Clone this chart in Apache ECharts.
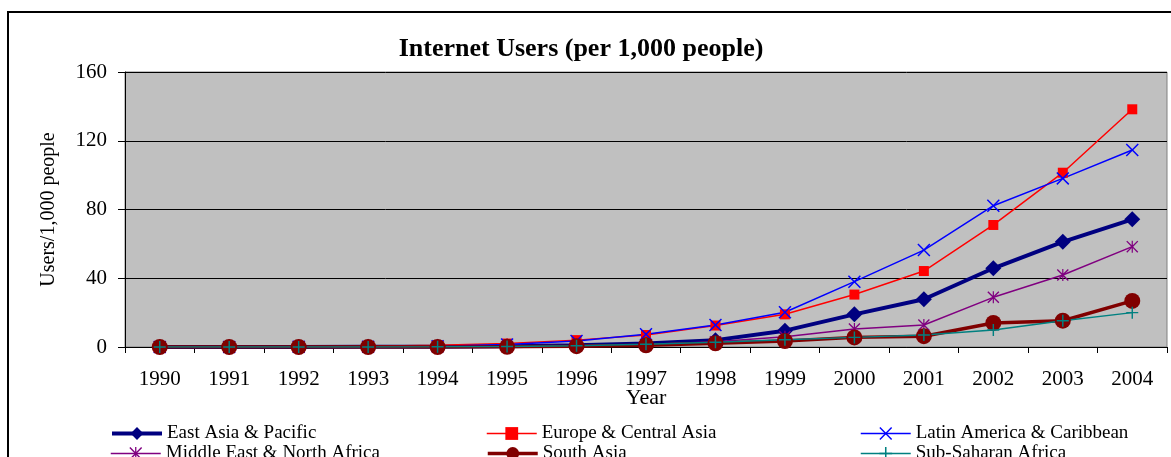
<!DOCTYPE html>
<html>
<head>
<meta charset="utf-8">
<script src="https://cdn.jsdelivr.net/npm/echarts@6/dist/echarts.min.js"></script>
<style>
  html, body { margin: 0; padding: 0; background: #fff; }
  #chart { width: 1171px; height: 457px; }
</style>
</head>
<body>
<div id="chart"></div>
<script>
// Internet users per 1,000 people by region, 1990-2004
const years = ['1990','1991','1992','1993','1994','1995','1996','1997','1998','1999','2000','2001','2002','2003','2004'];
const yTicks = [0, 40, 80, 120, 160];

const eastAsiaPacific      = [0.0, 0.0, 0.0, 0.1, 0.2, 0.5, 1.0, 2.0, 4.0, 9.5, 19.0, 27.8, 45.8, 61.2, 74.3];
const europeCentralAsia    = [0.1, 0.1, 0.2, 0.5, 1.0, 2.0, 4.0, 7.0, 12.5, 19.0, 30.5, 44.2, 71.0, 101.4, 138.3];
const latinAmericaCarib    = [0.0, 0.0, 0.1, 0.2, 0.5, 1.5, 3.5, 7.4, 12.8, 20.2, 38.0, 56.4, 82.2, 98.1, 114.6];
const middleEastNAfrica    = [0.0, 0.0, 0.0, 0.0, 0.1, 0.3, 0.8, 1.5, 3.0, 6.0, 10.5, 12.8, 28.9, 41.9, 58.4];
const southAsia            = [0.0, 0.0, 0.0, 0.0, 0.0, 0.1, 0.5, 1.0, 2.2, 3.5, 5.6, 6.3, 14.0, 15.3, 26.8];
const subSaharanAfrica     = [0.0, 0.0, 0.0, 0.0, 0.1, 0.3, 0.7, 1.6, 2.8, 4.2, 5.6, 7.0, 9.9, 15.3, 20.0];

// marker shapes drawn as thin filled outlines
const crossX = 'path://M0,8L8,0L50,42L92,0L100,8L58,50L100,92L92,100L50,58L8,100L0,92L42,50Z';
const plus = 'path://M44,0L56,0L56,44L100,44L100,56L56,56L56,100L44,100L44,56L0,56L0,44L44,44Z';
const star = 'path://M0,8L8,0L50,42L92,0L100,8L58,50L100,92L92,100L50,58L8,100L0,92L42,50Z M45,0L55,0L55,100L45,100Z';

const FONT = 'Liberation Serif';

function line(name, data, color, width, symbol, size) {
  return {
    name, type: 'line', data,
    symbol, symbolSize: size, showSymbol: true,
    lineStyle: { color, width },
    itemStyle: { color, borderWidth: 0 },
    emphasis: { disabled: true },
    animation: false
  };
}

// one legend entry per slot: three columns, two rows
const legendText = { fontFamily: FONT, fontSize: 19, color: '#000' };
function legendAt(name, lineWidth, left, top) {
  return {
    orient: 'horizontal', left, top, itemWidth: 50, itemHeight: 16,
    padding: 0, textStyle: legendText, selectedMode: false,
    data: [{ name, lineStyle: { width: lineWidth } }]
  };
}

const chart = echarts.init(document.getElementById('chart'), null, { renderer: 'canvas' });

chart.setOption({
  backgroundColor: '#fff',
  title: {
    text: 'Internet Users (per 1,000 people)',
    left: 576, top: 31, textAlign: 'center',
    textStyle: { fontFamily: FONT, fontSize: 26, fontWeight: 'bold', color: '#000' }
  },
  graphic: [{
    type: 'rect', shape: { x: 8, y: 12, width: 1200, height: 500 },
    style: { fill: 'none', stroke: '#000', lineWidth: 2 }, silent: true, z: -1
  }],
  legend: [
    legendAt('East Asia & Pacific', 4, 110, 424),
    legendAt('Middle East & North Africa', 1.5, 110, 444),
    legendAt('Europe & Central Asia', 1.5, 486, 424),
    legendAt('South Asia', 3.5, 486, 444),
    legendAt('Latin America & Caribbean', 1.5, 860, 424),
    legendAt('Sub-Saharan Africa', 1.5, 860, 444)
  ],
  grid: {
    left: 125, top: 72, width: 1042, height: 275,
    show: true, backgroundColor: '#C0C0C0', borderColor: '#808080', borderWidth: 1
  },
  xAxis: {
    type: 'category', data: years, boundaryGap: true,
    name: 'Year', nameLocation: 'middle', nameGap: 40, nameMoveOverlap: false,
    nameTextStyle: { fontFamily: FONT, fontSize: 22, color: '#000' },
    axisLine: { lineStyle: { color: '#000', width: 1 } },
    axisTick: { show: true, length: 6, lineStyle: { color: '#000' } },
    axisLabel: { fontFamily: FONT, fontSize: 21, color: '#000', margin: 22 },
    splitLine: { show: false }
  },
  yAxis: {
    type: 'value', min: 0, max: 160, interval: 40,
    name: 'Users/1,000 people', nameLocation: 'middle', nameGap: 66, nameMoveOverlap: false,
    nameTextStyle: { fontFamily: FONT, fontSize: 20, color: '#000' },
    axisLine: { show: true, lineStyle: { color: '#000', width: 1 } },
    axisTick: { show: true, length: 7, lineStyle: { color: '#000' } },
    axisLabel: {
      fontFamily: FONT, fontSize: 21, color: '#000', margin: 18,
      formatter: v => yTicks.includes(v) ? String(v) : ''
    },
    splitLine: { show: true, lineStyle: { color: '#000', width: 1 } }
  },
  series: [
    line('East Asia & Pacific', eastAsiaPacific, '#000080', 4, 'diamond', 16),
    line('Europe & Central Asia', europeCentralAsia, '#FF0000', 1.5, 'rect', 10),
    line('Latin America & Caribbean', latinAmericaCarib, '#0000FF', 1.5, crossX, 13),
    line('Middle East & North Africa', middleEastNAfrica, '#800080', 1.5, star, 12),
    line('South Asia', southAsia, '#800000', 3.5, 'circle', 16),
    line('Sub-Saharan Africa', subSaharanAfrica, '#008080', 1.5, plus, 12)
  ]
});
</script>
</body>
</html>
